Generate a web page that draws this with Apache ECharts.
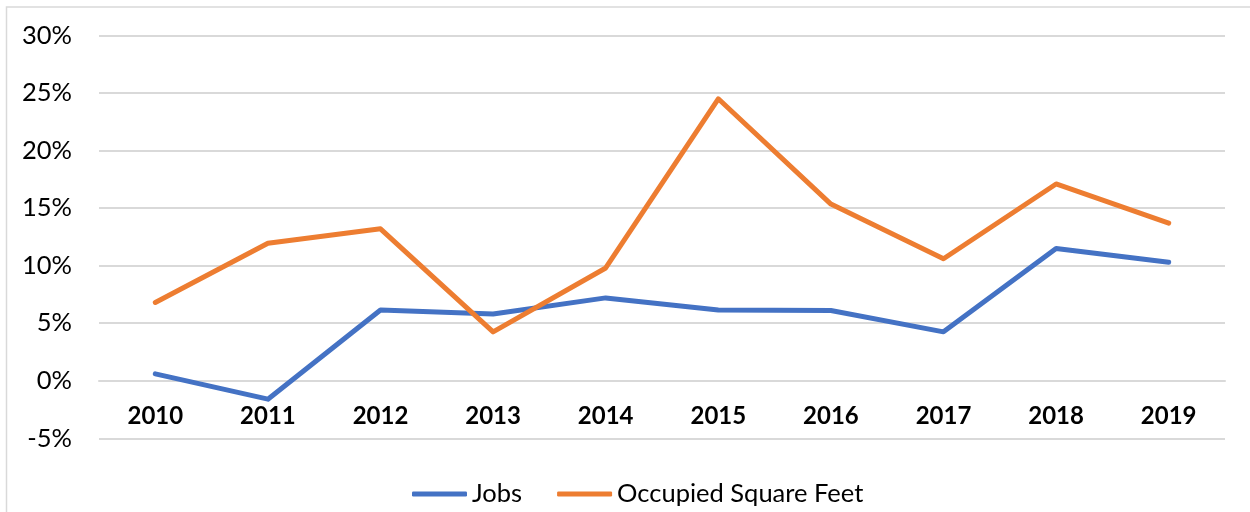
<!DOCTYPE html>
<html>
<head>
<meta charset="utf-8">
<script src="https://cdn.jsdelivr.net/npm/echarts@6/dist/echarts.min.js"></script>
<style>
  html, body { margin: 0; padding: 0; background: #fff; }
  #chart { width: 1250px; height: 512px; }
</style>
</head>
<body>
<div id="chart"></div>
<script>
// Annual growth rates, in percent
const years = ['2010', '2011', '2012', '2013', '2014', '2015', '2016', '2017', '2018', '2019'];
const jobs = [0.6, -1.6, 6.15, 5.8, 7.2, 6.15, 6.1, 4.25, 11.5, 10.3];
const occupiedSqFt = [6.8, 11.95, 13.2, 4.25, 9.8, 24.5, 15.35, 10.6, 17.1, 13.7];
const seriesNames = ['Jobs', 'Occupied Square Feet'];
const seriesColors = ['#4472C4', '#ED7D31'];

const font = 'Lato, "Open Sans", sans-serif';
const chart = echarts.init(document.getElementById('chart'), null, { renderer: 'canvas' });

// Grid geometry: the category axis sits on the 0% line, one 5% step above the bottom
const gridTop = 35.5;
const gridBottom = 73.7;
const plotHeight = 512 - gridTop - gridBottom;
const yMin = -5, yMax = 30;
const zeroOffset = plotHeight * (0 - yMin) / (yMax - yMin);

chart.setOption({
  backgroundColor: '#ffffff',
  animation: false,
  graphic: [{
    type: 'rect',
    shape: { x: 6.5, y: 7, width: 1300, height: 600 },
    style: { fill: 'none', stroke: '#d9d9d9', lineWidth: 1.5 },
    silent: true
  }],
  grid: { left: 99, right: 25, top: gridTop, bottom: gridBottom, containLabel: false },
  legend: {
    top: 476,
    left: 407,
    icon: 'roundRect',
    itemWidth: 55,
    itemHeight: 5,
    itemGap: 35,
    textStyle: { fontFamily: font, fontSize: 25.5, color: '#000' },
    data: seriesNames
  },
  xAxis: {
    type: 'category',
    data: years,
    boundaryGap: true,
    offset: -zeroOffset,
    axisLine: { show: true, onZero: false, lineStyle: { color: '#d9d9d9', width: 2 } },
    axisTick: { show: false },
    axisLabel: {
      fontFamily: font, fontSize: 24, fontWeight: 'bold', color: '#000', margin: 24
    },
    splitLine: { show: false }
  },
  yAxis: {
    type: 'value',
    min: yMin,
    max: yMax,
    interval: 5,
    axisLine: { show: false },
    axisTick: { show: false },
    axisLabel: {
      fontFamily: font, fontSize: 25.5, color: '#000', margin: 27,
      formatter: v => v + '%'
    },
    splitLine: { lineStyle: { color: '#d9d9d9', width: 2 } }
  },
  series: [
    {
      name: seriesNames[0],
      type: 'line',
      data: jobs,
      symbol: 'none',
      color: seriesColors[0],
      lineStyle: { width: 5, color: seriesColors[0], cap: 'round', join: 'round' }
    },
    {
      name: seriesNames[1],
      type: 'line',
      data: occupiedSqFt,
      symbol: 'none',
      color: seriesColors[1],
      lineStyle: { width: 5, color: seriesColors[1], cap: 'round', join: 'round' }
    }
  ]
});
</script>
</body>
</html>
